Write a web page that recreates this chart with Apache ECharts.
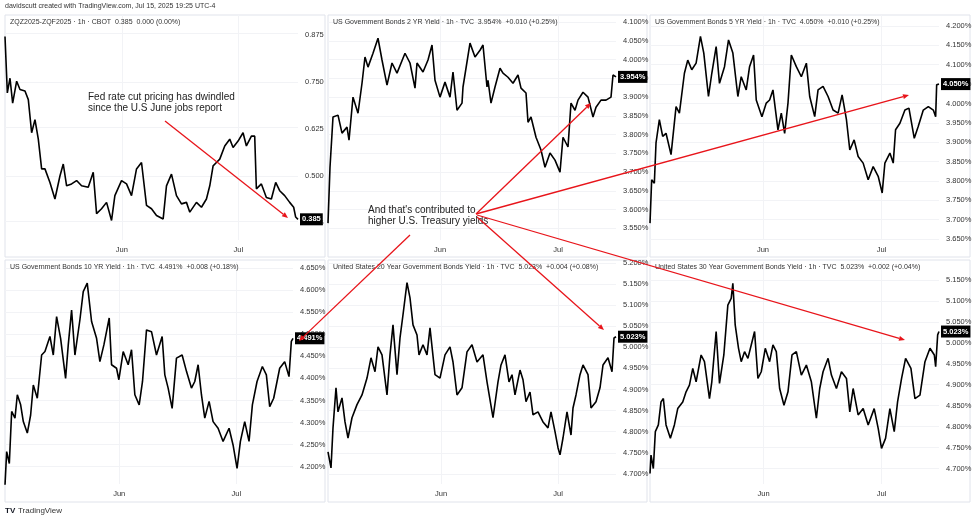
<!DOCTYPE html>
<html><head><meta charset="utf-8">
<script src="https://cdn.jsdelivr.net/npm/echarts@6/dist/echarts.min.js"></script>
<style>html,body{margin:0;padding:0;background:#fff}#c{width:975px;height:521px}</style>
</head><body><div id="c"></div>
<script>
// ---- DATA (time index, value) ----
const zqData = [[15,0.871],[22,0.721],[30,0.76],[38,0.694],[50,0.752],[60,0.73],[75,0.726],[85,0.703],[95,0.615],[105,0.65],[115,0.598],[125,0.519],[135,0.519],[150,0.483],[165,0.439],[180,0.5],[190,0.532],[200,0.474],[215,0.479],[230,0.488],[245,0.474],[265,0.47],[280,0.51],[290,0.4],[305,0.413],[320,0.43],[335,0.382],[345,0.448],[365,0.488],[380,0.479],[395,0.448],[410,0.519],[425,0.536],[440,0.422],[455,0.413],[470,0.395],[490,0.386],[500,0.474],[515,0.505],[530,0.448],[545,0.426],[560,0.43],[570,0.404],[590,0.43],[605,0.417],[620,0.439],[630,0.474],[640,0.527],[650,0.536],[660,0.545],[675,0.58],[690,0.598],[700,0.576],[715,0.593],[730,0.615],[740,0.58],[755,0.606],[765,0.606],[770,0.466],[785,0.479],[800,0.443],[815,0.439],[828,0.483],[840,0.461],[855,0.448],[870,0.43],[882,0.417],[888,0.391],[895,0.385]];
const y2Data = [[328,3.564],[330,3.713],[333,3.847],[338,3.852],[342,3.804],[347,3.82],[349,3.785],[353,3.90],[358,3.857],[362,3.937],[365,4.007],[368,3.98],[373,4.017],[378,4.057],[382,3.999],[387,3.932],[392,3.991],[397,3.964],[405,4.017],[410,3.991],[415,3.924],[417,3.991],[423,3.967],[428,3.999],[432,4.039],[435,3.945],[440,3.90],[445,3.94],[450,3.90],[453,3.967],[457,3.865],[462,3.884],[463,3.927],[470,4.044],[475,4.007],[480,4.025],[483,4.039],[487,3.927],[488,3.945],[491,3.884],[495,3.927],[500,3.977],[503,3.964],[508,3.953],[513,3.937],[518,3.959],[521,3.924],[526,3.911],[528,3.833],[531,3.847],[536,3.793],[541,3.759],[545,3.713],[550,3.751],[555,3.732],[560,3.70],[563,3.793],[568,3.767],[571,3.884],[575,3.865],[578,3.892],[583,3.913],[588,3.90],[593,3.847],[596,3.873],[601,3.892],[606,3.892],[611,3.90],[613,3.959],[616,3.954]];
const y5Data = [[487,3.691],[492,3.803],[500,3.794],[505,3.898],[515,3.958],[525,3.915],[535,3.923],[550,3.868],[565,3.992],[575,3.975],[590,4.078],[600,4.112],[612,4.087],[625,4.104],[638,4.173],[648,4.13],[662,4.018],[672,4.078],[685,4.147],[695,4.052],[710,4.095],[722,4.164],[735,4.13],[750,4.018],[760,4.069],[775,4.035],[785,4.095],[797,4.125],[805,4.009],[822,3.966],[835,4.001],[845,4.009],[855,4.035],[870,3.932],[880,3.975],[890,3.923],[900,4.001],[910,4.125],[925,4.095],[940,4.069],[955,4.104],[965,4.018],[980,3.966],[990,4.035],[1005,4.044],[1020,4.018],[1035,3.983],[1050,3.975],[1062,4.022],[1075,3.958],[1085,3.88],[1098,3.906],[1110,3.863],[1125,3.846],[1140,3.803],[1155,3.837],[1170,3.812],[1182,3.769],[1190,3.846],[1205,3.872],[1215,3.846],[1222,3.932],[1235,3.949],[1250,3.983],[1262,3.988],[1278,3.910],[1290,3.941],[1305,3.983],[1320,3.992],[1335,3.983],[1342,3.966],[1345,4.048],[1352,4.050]];
const y10Data = [[15,4.158],[20,4.234],[28,4.207],[35,4.325],[45,4.31],[52,4.363],[62,4.34],[70,4.302],[82,4.276],[92,4.317],[100,4.385],[112,4.355],[125,4.453],[135,4.461],[150,4.495],[160,4.453],[170,4.54],[182,4.491],[197,4.4],[205,4.476],[215,4.555],[225,4.453],[240,4.533],[250,4.597],[262,4.616],[275,4.529],[290,4.491],[300,4.438],[312,4.476],[328,4.537],[335,4.431],[350,4.423],[357,4.397],[370,4.461],[385,4.431],[395,4.465],[405,4.363],[418,4.34],[428,4.393],[440,4.51],[455,4.506],[470,4.453],[487,4.495],[495,4.408],[505,4.378],[517,4.332],[530,4.446],[547,4.453],[560,4.416],[575,4.378],[585,4.393],[595,4.431],[605,4.363],[615,4.31],[628,4.348],[640,4.302],[655,4.287],[670,4.257],[688,4.287],[700,4.249],[712,4.196],[722,4.257],[735,4.302],[748,4.257],[758,4.34],[772,4.393],[788,4.427],[800,4.408],[810,4.336],[822,4.355],[840,4.423],[855,4.438],[868,4.404],[875,4.484],[880,4.491]];
const y20Data = [[328,4.752],[331,4.714],[333,4.809],[336,4.904],[338,4.847],[342,4.88],[345,4.823],[348,4.785],[352,4.833],[357,4.864],[362,4.887],[367,4.927],[371,4.975],[375,4.942],[378,5.001],[382,4.982],[387,4.887],[390,4.982],[393,5.053],[397,4.935],[400,5.022],[403,5.077],[407,5.153],[410,5.117],[413,5.053],[417,5.029],[419,4.982],[423,5.006],[427,4.982],[430,5.046],[435,4.935],[440,4.927],[445,4.982],[450,5.001],[453,4.965],[457,4.887],[462,4.904],[467,4.989],[472,5.006],[477,4.965],[483,4.982],[487,4.918],[488,4.918],[493,4.833],[498,4.918],[501,4.958],[505,4.982],[509,4.918],[512,4.935],[515,4.887],[520,4.946],[523,4.923],[526,4.871],[530,4.894],[533,4.84],[538,4.847],[543,4.823],[548,4.809],[551,4.847],[555,4.8],[558,4.762],[560,4.745],[563,4.785],[567,4.847],[571,4.792],[573,4.856],[576,4.887],[580,4.935],[583,4.958],[588,4.935],[591,4.856],[596,4.871],[600,4.904],[603,4.958],[608,4.975],[612,4.942],[614,5.022],[616,5.025]];
const y30Data = [[487,4.688],[490,4.732],[497,4.70],[503,4.788],[512,4.804],[520,4.859],[527,4.867],[535,4.804],[548,4.772],[560,4.804],[570,4.843],[585,4.859],[595,4.883],[605,4.899],[615,4.939],[625,4.907],[640,4.971],[650,4.955],[665,4.867],[672,4.907],[685,5.027],[695,4.903],[708,4.971],[720,5.09],[730,5.106],[735,5.142],[742,5.043],[752,4.987],[760,4.955],[770,4.979],[780,4.963],[790,4.995],[800,5.027],[810,4.915],[820,4.931],[832,4.987],[845,4.955],[855,4.995],[865,4.979],[875,4.891],[888,4.851],[900,4.883],[912,4.971],[925,4.979],[940,4.923],[955,4.947],[970,4.907],[985,4.82],[995,4.891],[1005,4.931],[1020,4.963],[1030,4.923],[1045,4.891],[1060,4.931],[1075,4.915],[1085,4.835],[1095,4.891],[1110,4.828],[1125,4.843],[1140,4.804],[1158,4.843],[1170,4.796],[1180,4.748],[1192,4.772],[1205,4.843],[1218,4.788],[1228,4.859],[1240,4.915],[1252,4.963],[1268,4.939],[1280,4.867],[1295,4.875],[1310,4.955],[1325,4.987],[1338,4.971],[1342,4.943],[1348,5.019],[1352,5.027]];

const zqTicks = [0.875,0.750,0.625,0.500,0.375];
const y2Ticks = [4.10,4.05,4.00,3.95,3.90,3.85,3.80,3.75,3.70,3.65,3.60,3.55];
const y5Ticks = [4.20,4.15,4.10,4.05,4.00,3.95,3.90,3.85,3.80,3.75,3.70,3.65];
const y10Ticks = [4.65,4.60,4.55,4.50,4.45,4.40,4.35,4.30,4.25,4.20];
const y20Ticks = [5.20,5.15,5.10,5.05,5.00,4.95,4.90,4.85,4.80,4.75,4.70];
const y30Ticks = [5.15,5.10,5.05,5.00,4.95,4.90,4.85,4.80,4.75,4.70];
const monthLabels = ['Jun','Jul'];

const titles = [
 'ZQZ2025-ZQF2025 · 1h · CBOT  0.385  0.000 (0.00%)',
 'US Government Bonds 2 YR Yield · 1h · TVC  3.954%  +0.010 (+0.25%)',
 'US Government Bonds 5 YR Yield · 1h · TVC  4.050%  +0.010 (+0.25%)',
 'US Government Bonds 10 YR Yield · 1h · TVC  4.491%  +0.008 (+0.18%)',
 'United States 20 Year Government Bonds Yield · 1h · TVC  5.023%  +0.004 (+0.08%)',
 'United States 30 Year Government Bonds Yield · 1h · TVC  5.023%  +0.002 (+0.04%)'
];
const lastLabels = ['0.385','3.954%','4.050%','4.491%','5.023%','5.023%'];

// ---- layout ----
const panels = [
 {d:zqData, t:zqTicks, dec:3, pct:false, g:[5,15,293,225], x:[15,895], mx:[366,716], y:[0.330,0.928], frame:[5,15,320,242]},
 {d:y2Data, t:y2Ticks, dec:3, pct:true, g:[328,15,288,225], x:[328,616], mx:[440,558], y:[3.519,4.119], frame:[328,15,319,242]},
 {d:y5Data, t:y5Ticks, dec:3, pct:true, g:[650,15,289,225], x:[487,1352], mx:[825,1180], y:[3.6475,4.2284], frame:[650,15,320,242]},
 {d:y10Data, t:y10Ticks, dec:3, pct:true, g:[5,262,288,222], x:[15,880], mx:[358,710], y:[4.1605,4.664], frame:[5,260,320,242]},
 {d:y20Data, t:y20Ticks, dec:3, pct:true, g:[328,262,288,222], x:[328,616], mx:[441,558], y:[4.676,5.202], frame:[328,260,319,242]},
 {d:y30Data, t:y30Ticks, dec:3, pct:true, g:[650,262,289,222], x:[487,1352], mx:[827,1180], y:[4.663,5.193], frame:[650,260,320,242]}
];
const F = '"Liberation Sans", Arial, sans-serif';
const grid=[], xAxis=[], yAxis=[], series=[], graphic=[];
panels.forEach((p,i)=>{
  grid.push({left:p.g[0], top:p.g[1], width:p.g[2], height:p.g[3]});
  xAxis.push({type:'value', gridIndex:i, min:p.x[0], max:p.x[1], splitLine:{show:false}, axisLine:{show:false}, axisTick:{show:false},
    axisLabel:{customValues:p.mx, color:'#333', fontSize:7.5, fontFamily:F, margin:6, formatter:v=>monthLabels[p.mx.indexOf(v)]||''}});
  yAxis.push({type:'value', gridIndex:i, position:'right', min:p.y[0], max:p.y[1], splitLine:{show:false}, axisLine:{show:false}, axisTick:{show:false},
    axisLabel:{customValues:p.t, color:'#333', fontSize:7.5, fontFamily:F, margin:7, formatter:v=>v.toFixed(p.dec)+(p.pct?'%':'')}});
  const ml = p.t.map(v=>({yAxis:v})).concat(p.mx.map(v=>({xAxis:v})));
  series.push({type:'line', xAxisIndex:i, yAxisIndex:i, data:p.d, showSymbol:false, symbol:'none', lineStyle:{color:'#000', width:1.6}, z:3,
    endLabel:{show:true, formatter:lastLabels[i], backgroundColor:'#000', color:'#fff', fontSize:7.5, fontWeight:'bold', fontFamily:F, padding:[2,2], distance:2},
    markLine:{silent:true, symbol:'none', label:{show:false}, lineStyle:{color:'#f2f3f6', width:1, type:'solid'}, data:ml, z:1}});
  const f=p.frame;
  graphic.push({type:'rect', shape:{x:f[0],y:f[1],width:f[2],height:f[3]}, style:{fill:'none', stroke:'#e0e3eb', lineWidth:1}, z:0});
  graphic.push({type:'text', x:f[0]+5, y:f[1]+4, style:{text:titles[i], fill:'#333', font:'7px '+F}, z:5});
});
graphic.push({type:'text', x:5, y:3, style:{text:'davidscutt created with TradingView.com, Jul 15, 2025 19:25 UTC-4', fill:'#333', font:'7px '+F}});
graphic.push({type:'text', x:5, y:507, style:{text:'TV', fill:'#131722', font:'bold 8px '+F}});
graphic.push({type:'text', x:18, y:507, style:{text:'TradingView', fill:'#333', font:'8px '+F}});
graphic.push({type:'text', x:88, y:92, style:{text:'Fed rate cut pricing has dwindled\nsince the U.S June jobs report', fill:'#222', font:'10px '+F, lineHeight:11}, z:6});
graphic.push({type:'text', x:368, y:205, style:{text:"And that's contributed to\nhigher U.S. Treasury yields", fill:'#222', font:'10px '+F, lineHeight:11}, z:6});
function arrow(x1,y1,x2,y2){
  const a=Math.atan2(y2-y1,x2-x1), L=6, W=2.5;
  const bx=x2-L*Math.cos(a), by=y2-L*Math.sin(a);
  graphic.push({type:'line', shape:{x1,y1,x2:bx,y2:by}, style:{stroke:'#e8141a', lineWidth:1.3}, z:7});
  graphic.push({type:'polygon', shape:{points:[[x2,y2],[bx-W*Math.sin(a),by+W*Math.cos(a)],[bx+W*Math.sin(a),by-W*Math.cos(a)]]}, style:{fill:'#e8141a'}, z:7});
}
arrow(165,121,288,218);
arrow(476,214,591,103);
arrow(476,214,909,95);
arrow(410,235,299,341);
arrow(477,217,604,330);
arrow(477,215,905,340);
const chart = echarts.init(document.getElementById('c'));
chart.setOption({animation:false, backgroundColor:'#fff', grid, xAxis, yAxis, series, graphic});
</script></body></html>
